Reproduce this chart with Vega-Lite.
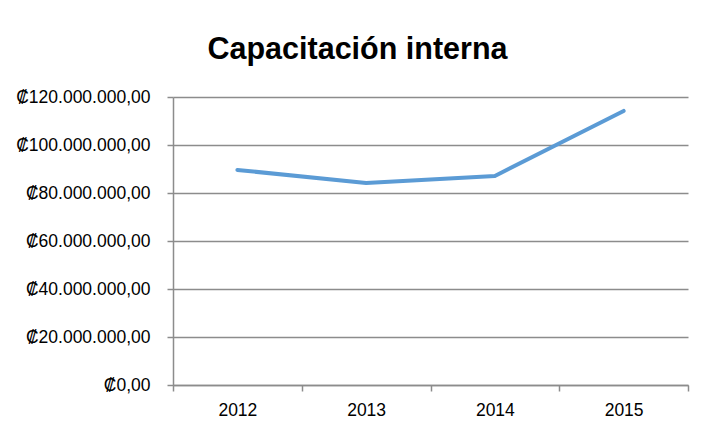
{
  "$schema": "https://vega.github.io/schema/vega-lite/v6.json",
  "autosize": {"type": "none"},
  "width": 515,
  "height": 288,
  "padding": {"left": 173, "top": 97, "right": 26, "bottom": 38},
  "background": "white",
  "title": {
    "text": "Capacitación interna",
    "font": "Liberation Sans",
    "fontSize": 30.5,
    "fontWeight": "bold",
    "color": "#000000",
    "anchor": "middle",
    "dx": -73,
    "offset": 23
  },
  "config": {
    "locale": {
      "number": {"decimal": ",", "thousands": ".", "grouping": [3], "currency": ["₡", ""]}
    },
    "view": {"stroke": null}
  },
  "data": {
    "values": [
      {"year": "2012", "value": 89600000},
      {"year": "2013", "value": 84200000},
      {"year": "2014", "value": 87100000},
      {"year": "2015", "value": 114200000}
    ]
  },
  "mark": {"type": "line", "color": "#5B9BD5", "strokeWidth": 4, "strokeCap": "round", "strokeJoin": "round"},
  "encoding": {
    "x": {
      "field": "year",
      "type": "ordinal",
      "scale": {"type": "band", "paddingInner": 0, "paddingOuter": 0},
      "axis": {
        "title": null,
        "labelAngle": 0,
        "tickBand": "extent",
        "domainColor": "#8C8C8C",
        "domainWidth": 1.5,
        "tickColor": "#8C8C8C",
        "tickWidth": 1.5,
        "tickSize": 6,
        "labelFont": "Liberation Sans",
        "labelFontSize": 17.5,
        "labelColor": "#000000",
        "labelPadding": 10,
        "grid": false
      }
    },
    "y": {
      "field": "value",
      "type": "quantitative",
      "scale": {"domain": [0, 120000000], "nice": false},
      "axis": {
        "title": null,
        "values": [0, 20000000, 40000000, 60000000, 80000000, 100000000, 120000000],
        "format": "$,.2f",
        "grid": true,
        "gridColor": "#8C8C8C",
        "gridWidth": 1.5,
        "domainColor": "#8C8C8C",
        "domainWidth": 1.5,
        "tickColor": "#8C8C8C",
        "tickWidth": 1.5,
        "tickSize": 6,
        "labelFont": "Liberation Sans",
        "labelFontSize": 17.5,
        "labelColor": "#000000",
        "labelPadding": 17
      }
    }
  }
}
